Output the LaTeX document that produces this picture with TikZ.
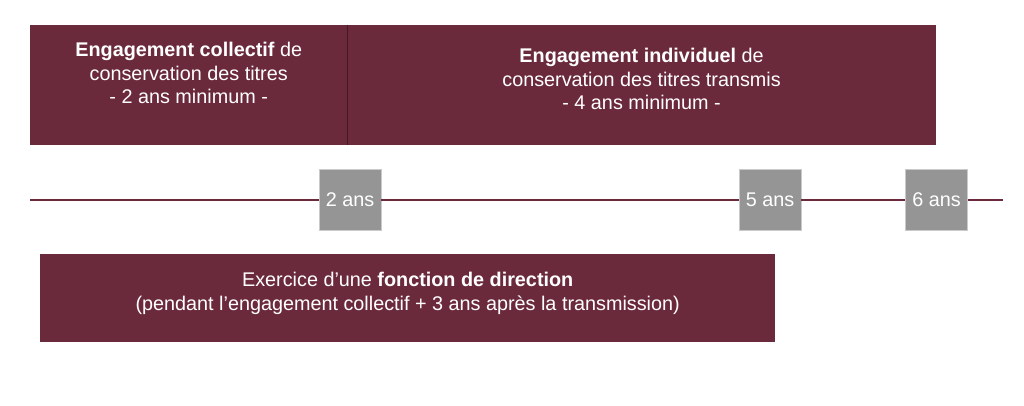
\documentclass[tikz,border=0pt]{standalone}
\usepackage{fontspec}
\setmainfont{Liberation Sans}
\definecolor{bordeaux}{HTML}{6B2A3C}
\definecolor{gris}{HTML}{959595}
\begin{document}
\begin{tikzpicture}
[x=1pt,y=-1pt,
 bigbox/.style={fill=bordeaux,draw=none,anchor=north west,inner sep=0pt},
 bigtext/.style={white,align=center,font=\fontsize{19.8}{23.5}\selectfont},
 yearbox/.style={fill=gris,draw=gris!50,line width=0.6pt,minimum width=62,minimum height=61,inner sep=0pt,text=white,font=\fontsize{19.8}{23.5}\selectfont},
 timeline/.style={bordeaux,line width=2.2pt},
 divider/.style={bordeaux!60!black,line width=1.2pt}]

\useasboundingbox (0,0) rectangle (1024,406);

% Engagement collectif
\node[bigbox,minimum width=317,minimum height=120] (collectif) at (30,25) {};
\node[bigtext] (collectiftxt) at ([yshift=12pt]collectif.center) {\textbf{Engagement collectif} de\\conservation des titres\\- 2 ans minimum -};

% Engagement individuel
\node[bigbox,minimum width=588,minimum height=120] (individuel) at (collectif.north east) {};
\node[bigtext] (individueltxt) at ([yshift=6pt]individuel.center) {\textbf{Engagement individuel} de\\conservation des titres transmis\\- 4 ans minimum -};
\draw[divider] (collectif.north east) -- (collectif.south east);

% timeline
\coordinate (debut) at (30,200);
\coordinate (fin) at (1003,200);
\node[yearbox] (an2) at (350,200) {2 ans};
\node[yearbox] (an5) at (770,200) {5 ans};
\node[yearbox] (an6) at (936.5,200) {6 ans};
\draw[timeline] (debut) -- (an2) (an2) -- (an5) (an5) -- (an6) (an6) -- (fin);

% fonction de direction
\node[bigbox,minimum width=735,minimum height=88] (direction) at (40,254) {};
\node[bigtext] (directiontxt) at ([yshift=5pt]direction.center) {Exercice d’une \textbf{fonction de direction}\\(pendant l’engagement collectif + 3 ans après la transmission)};

\end{tikzpicture}
\end{document}
